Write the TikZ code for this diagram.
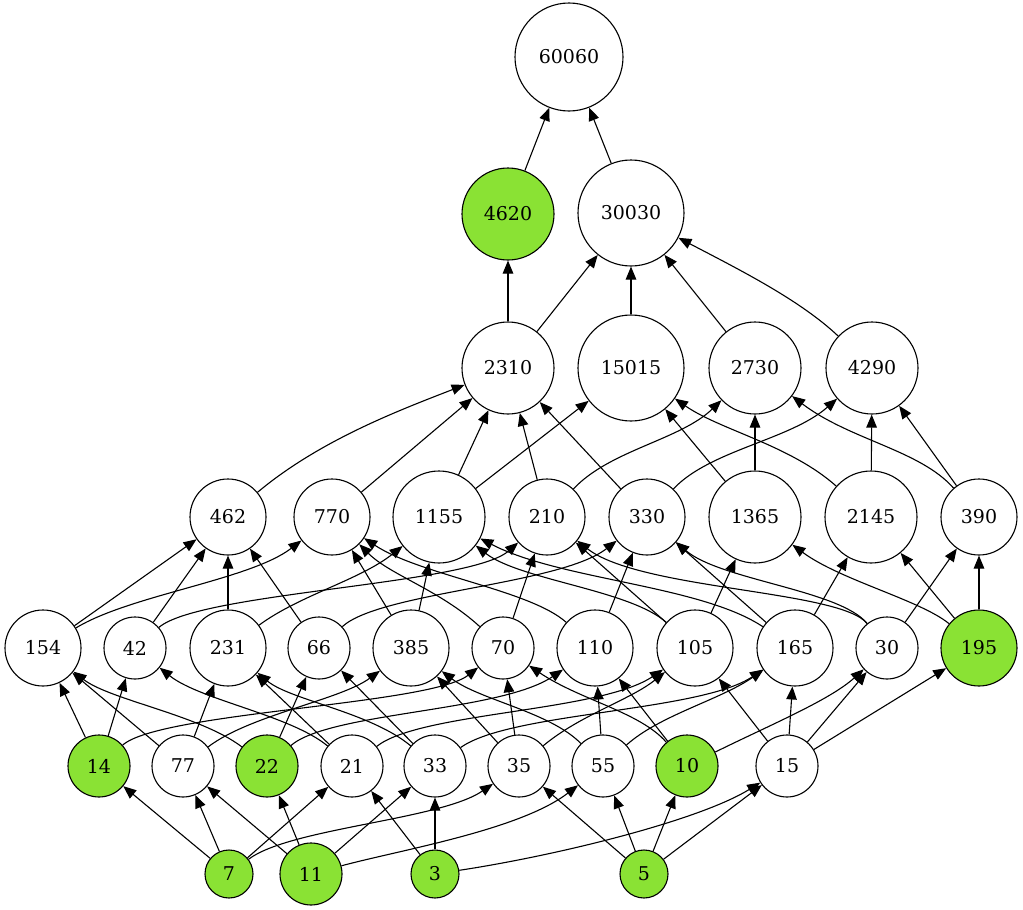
\documentclass[tikz,border=0pt]{standalone}
\usepackage{fontspec}
\setmainfont{DejaVu Serif}
\usetikzlibrary{arrows.meta}
\definecolor{lg}{HTML}{8AE234}
\begin{document}
\begin{tikzpicture}[x=1pt,y=-1pt,
  nd/.style={circle,draw,line width=1.1pt,inner sep=0pt,font=\fontsize{19}{19}\selectfont},
  gr/.style={nd,fill=lg},
  arr/.style={line width=1.1pt,-{Triangle[length=13pt,width=10.5pt]}}]
\useasboundingbox (0,0) rectangle (1023,910);
% level 7,6
\node[nd,minimum size=108pt] (n60060) at (569,57) {60060};
\node[gr,minimum size=92pt] (n4620) at (508,214) {4620};
\node[nd,minimum size=106pt] (n30030) at (631,213) {30030};
% level 5
\node[nd,minimum size=92pt] (n2310) at (508,368) {2310};
\node[nd,minimum size=106pt] (n15015) at (631,368) {15015};
\node[nd,minimum size=92pt] (n2730) at (755,368) {2730};
\node[nd,minimum size=92pt] (n4290) at (872,368) {4290};
% level 4
\node[nd,minimum size=76pt] (n462) at (228,517) {462};
\node[nd,minimum size=76pt] (n770) at (332,517) {770};
\node[nd,minimum size=92pt] (n1155) at (439,517) {1155};
\node[nd,minimum size=76pt] (n210) at (547,517) {210};
\node[nd,minimum size=76pt] (n330) at (647,517) {330};
\node[nd,minimum size=92pt] (n1365) at (755,517) {1365};
\node[nd,minimum size=92pt] (n2145) at (871,517) {2145};
\node[nd,minimum size=76pt] (n390) at (979,517) {390};
% level 3
\node[nd,minimum size=76pt] (n154) at (43,648) {154};
\node[nd,minimum size=62pt] (n42) at (135,648) {42};
\node[nd,minimum size=76pt] (n231) at (228,648) {231};
\node[nd,minimum size=62pt] (n66) at (319,648) {66};
\node[nd,minimum size=76pt] (n385) at (411,648) {385};
\node[nd,minimum size=62pt] (n70) at (503,648) {70};
\node[nd,minimum size=76pt] (n110) at (595,648) {110};
\node[nd,minimum size=76pt] (n105) at (695,648) {105};
\node[nd,minimum size=76pt] (n165) at (795,648) {165};
\node[nd,minimum size=62pt] (n30) at (887,648) {30};
\node[gr,minimum size=76pt] (n195) at (979,648) {195};
% level 2
\node[gr,minimum size=62pt] (n14) at (99,766) {14};
\node[nd,minimum size=62pt] (n77) at (183,766) {77};
\node[gr,minimum size=62pt] (n22) at (267,766) {22};
\node[nd,minimum size=62pt] (n21) at (352,766) {21};
\node[nd,minimum size=62pt] (n33) at (435,766) {33};
\node[nd,minimum size=62pt] (n35) at (519,766) {35};
\node[nd,minimum size=62pt] (n55) at (603,766) {55};
\node[gr,minimum size=62pt] (n10) at (687,766) {10};
\node[nd,minimum size=62pt] (n15) at (787,766) {15};
% level 1
\node[gr,minimum size=48pt] (n7) at (229,874) {7};
\node[gr,minimum size=62pt] (n11) at (311,874) {11};
\node[gr,minimum size=48pt] (n3) at (435,874) {3};
\node[gr,minimum size=48pt] (n5) at (644,874) {5};

% straight edges
\foreach \a/\b in {4620/60060,30030/60060,
  2310/4620,2310/30030,15015/30030,2730/30030,
  770/2310,1155/2310,1155/15015,210/2310,330/2310,1365/15015,1365/2730,2145/4290,390/4290,
  154/462,42/462,231/462,66/462,385/770,385/1155,70/210,110/330,105/210,105/1365,165/330,165/2145,30/390,195/2145,195/390,
  14/154,14/42,77/154,77/231,22/66,21/231,33/66,35/70,35/385,55/110,10/110,15/105,15/165,15/30,15/195,
  7/14,7/77,7/21,11/77,11/22,11/33,3/21,3/33,5/35,5/55,5/10,5/15}
  \draw[arr] (n\a) -- (n\b);

% curved edges level 1 -> 2
\draw[arr] (n7) .. controls (290,828) and (440,820) .. (n35);
\draw[arr] (n11) .. controls (400,850) and (520,830) .. (n55);
\draw[arr] (n3) .. controls (560,855) and (700,820) .. (n15);
% level 2 -> 3
\draw[arr] (n14) .. controls (160,712) and (430,705) .. (n70);
\draw[arr] (n77) .. controls (250,715) and (340,700) .. (n385);
\draw[arr] (n22) .. controls (200,715) and (110,700) .. (n154);
\draw[arr] (n22) .. controls (330,712) and (500,712) .. (n110);
\draw[arr] (n21) .. controls (290,715) and (200,700) .. (n42);
\draw[arr] (n21) .. controls (420,712) and (600,712) .. (n105);
\draw[arr] (n33) .. controls (370,712) and (290,700) .. (n231);
\draw[arr] (n33) .. controls (510,712) and (700,712) .. (n165);
\draw[arr] (n55) .. controls (550,712) and (480,700) .. (n385);
\draw[arr] (n35) .. controls (580,715) and (630,700) .. (n105);
\draw[arr] (n55) .. controls (660,715) and (720,700) .. (n165);
\draw[arr] (n10) .. controls (640,712) and (580,700) .. (n70);
\draw[arr] (n10) .. controls (770,725) and (830,700) .. (n30);
% level 3 -> 4
\draw[arr] (n154) .. controls (130,595) and (250,580) .. (n770);
\draw[arr] (n42) .. controls (200,592) and (470,585) .. (n210);
\draw[arr] (n231) .. controls (300,595) and (360,580) .. (n1155);
\draw[arr] (n66) .. controls (380,592) and (560,585) .. (n330);
\draw[arr] (n70) .. controls (440,590) and (390,575) .. (n770);
\draw[arr] (n110) .. controls (530,590) and (420,575) .. (n770);
\draw[arr] (n105) .. controls (630,590) and (520,580) .. (n1155);
\draw[arr] (n165) .. controls (700,585) and (560,580) .. (n1155);
\draw[arr] (n30) .. controls (840,590) and (640,590) .. (n210);
\draw[arr] (n30) .. controls (840,590) and (720,580) .. (n330);
\draw[arr] (n195) .. controls (920,600) and (840,580) .. (n1365);
% level 4 -> 5
\draw[arr] (n462) .. controls (320,440) and (400,410) .. (n2310);
\draw[arr] (n210) .. controls (610,450) and (680,440) .. (n2730);
\draw[arr] (n330) .. controls (710,450) and (790,440) .. (n4290);
\draw[arr] (n2145) .. controls (790,445) and (720,430) .. (n15015);
\draw[arr] (n390) .. controls (920,450) and (850,440) .. (n2730);
% level 5 -> 6
\draw[arr] (n4290) .. controls (800,300) and (740,270) .. (n30030);
\end{tikzpicture}
\end{document}
